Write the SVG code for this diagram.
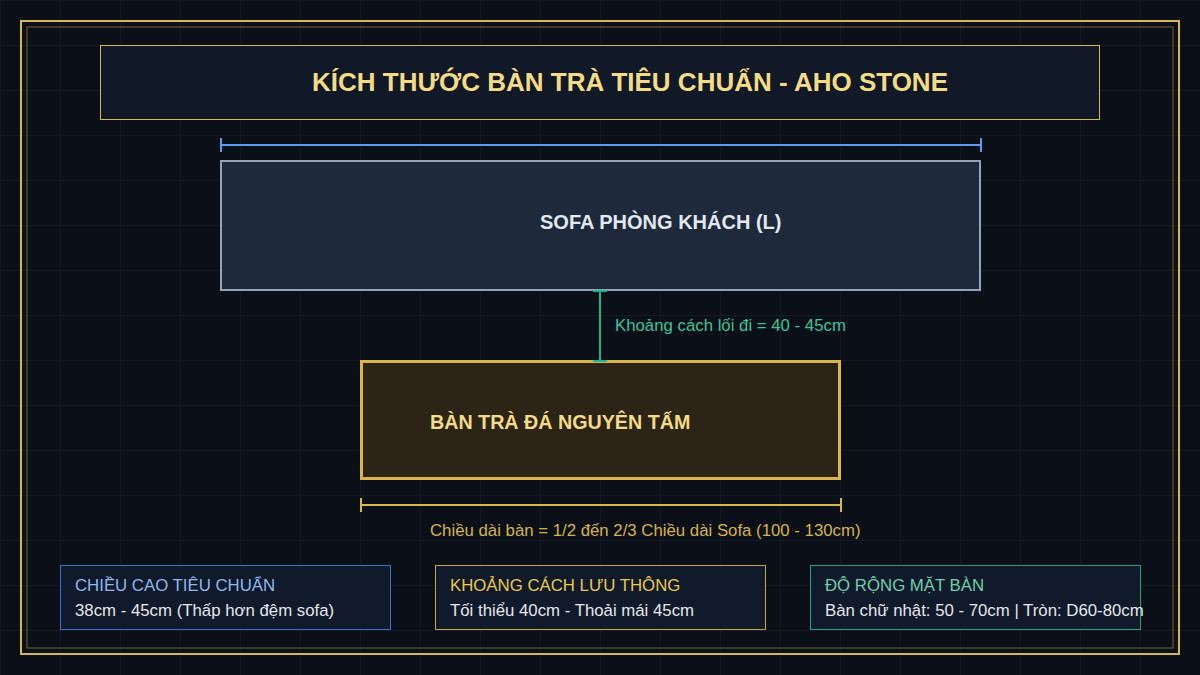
<svg xmlns="http://www.w3.org/2000/svg" width="1200" height="675" viewBox="0 0 1200 675">
  <defs>
    <pattern id="grid" x="0" y="0" width="60" height="45" patternUnits="userSpaceOnUse">
      <path d="M60 0 L0 0 L0 45" fill="none" stroke="#1c2230" stroke-width="1"/>
    </pattern>
    <style>
      .sans { font-family: "Liberation Sans", Arial, sans-serif; }
      .bold { font-weight: bold; }
      .dimBlue { stroke: #5b9bf0; stroke-width: 2; fill: none; }
      .dimGold { stroke: #d8b84e; stroke-width: 2; fill: none; }
      .dimGreen { stroke: #22b58a; stroke-width: 2; fill: none; }
      .info { fill: #111a2a; stroke-width: 1; }
      .infoTitle { font-size: 16.8px; }
      .infoBody { font-size: 16.8px; fill: #e5e7eb; }
    </style>
  </defs>
  <rect x="0" y="0" width="1200" height="675" fill="#0b0f18"/>
  <rect x="0" y="0" width="1200" height="675" fill="url(#grid)"/>
  <g id="frame">
    <rect x="21" y="21" width="1158" height="633" fill="none" stroke="#d8b84e" stroke-width="2"/>
    <rect x="27" y="27" width="1146" height="621" fill="none" stroke="#d8b84e" stroke-opacity="0.5" stroke-width="1"/>
  </g>
  <g id="title">
    <rect x="100.5" y="45.5" width="999" height="74" fill="#111827" stroke="#d8b84e" stroke-width="1"/>
    <text x="630" y="91" text-anchor="middle" class="sans bold" font-size="26" fill="#f3dc84">KÍCH THƯỚC BÀN TRÀ TIÊU CHUẨN - AHO STONE</text>
  </g>
  <g id="sofa">
    <rect x="221" y="161" width="759" height="129" fill="#1e293b" stroke="#94a3b8" stroke-width="2"/>
    <text x="540" y="229" class="sans bold" font-size="20" fill="#e2e8f0">SOFA PHÒNG KHÁCH (L)</text>
  </g>
  <g id="table">
    <rect x="361.5" y="361.5" width="478" height="117" fill="#2c2517" stroke="#d8b84e" stroke-width="3"/>
    <text x="430" y="429" class="sans bold" font-size="19.7" fill="#f3dc84">BÀN TRÀ ĐÁ NGUYÊN TẤM</text>
  </g>
  <g id="connectors">
    <g id="dim-sofa">
      <line class="dimBlue" x1="221" y1="145" x2="981" y2="145"/>
      <line class="dimBlue" x1="221" y1="138" x2="221" y2="152"/>
      <line class="dimBlue" x1="981" y1="138" x2="981" y2="152"/>
    </g>
    <g id="dim-gap">
      <line class="dimGreen" x1="600" y1="291" x2="600" y2="361"/>
      <line class="dimGreen" x1="593" y1="291" x2="607" y2="291"/>
      <line class="dimGreen" x1="593" y1="361" x2="607" y2="361"/>
      <text x="615" y="331" class="sans" font-size="16.8" fill="#3cc497">Khoảng cách lối đi = 40 - 45cm</text>
    </g>
    <g id="dim-table">
      <line class="dimGold" x1="361" y1="505" x2="841" y2="505"/>
      <line class="dimGold" x1="361" y1="498" x2="361" y2="512"/>
      <line class="dimGold" x1="841" y1="498" x2="841" y2="512"/>
      <text x="430" y="536" class="sans" font-size="16.8" fill="#d6b44c">Chiều dài bàn = 1/2 đến 2/3 Chiều dài Sofa (100 - 130cm)</text>
    </g>
  </g>
  <g id="info-height">
    <rect class="info" x="60.5" y="565.5" width="330" height="64" stroke="#3d6fc9"/>
    <text x="75" y="591" class="sans infoTitle" fill="#8fb8ef">CHIỀU CAO TIÊU CHUẨN</text>
    <text x="75" y="616" class="sans infoBody">38cm - 45cm (Thấp hơn đệm sofa)</text>
  </g>
  <g id="info-circulation">
    <rect class="info" x="435.5" y="565.5" width="330" height="64" stroke="#c9a43a"/>
    <text x="450" y="591" class="sans infoTitle" fill="#e9c94f">KHOẢNG CÁCH LƯU THÔNG</text>
    <text x="450" y="616" class="sans infoBody">Tối thiểu 40cm - Thoải mái 45cm</text>
  </g>
  <g id="info-width">
    <rect class="info" x="810.5" y="565.5" width="330" height="64" stroke="#2a9e80"/>
    <text x="825" y="591" class="sans infoTitle" fill="#6fcfad">ĐỘ RỘNG MẶT BÀN</text>
    <text x="825" y="616" class="sans infoBody">Bàn chữ nhật: 50 - 70cm | Tròn: D60-80cm</text>
  </g>
</svg>
